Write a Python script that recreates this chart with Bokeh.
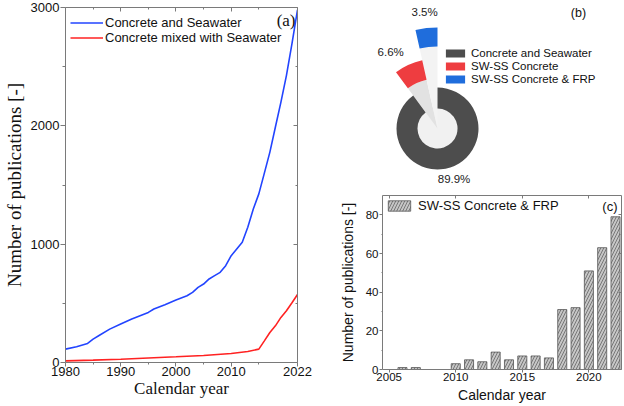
import numpy as np
from bokeh.plotting import figure
from bokeh.layouts import row, column
from bokeh.models import FixedTicker, LinearAxis, Range1d, Label, ColumnDataSource
from bokeh.core.properties import value
from bokeh.embed import file_html
from bokeh.resources import INLINE

# ---------------- data ----------------
# (a) cumulative publications
years_cs = [1980, 1982, 1984, 1985, 1986, 1988, 1990, 1992, 1995, 1996, 1998, 2000, 2002, 2003,
            2004, 2005, 2006, 2007, 2008, 2009, 2010, 2011, 2012, 2013, 2014, 2015, 2016, 2017,
            2018, 2019, 2020, 2021, 2022]
pubs_cs = [113, 133, 161, 198, 226, 282, 325, 367, 423, 452, 488, 528, 564, 593,
           635, 663, 706, 734, 762, 818, 903, 960, 1016, 1143, 1298, 1425, 1600, 1778,
           1990, 2201, 2427, 2695, 2980]
years_mix = [1980, 1985, 1990, 1995, 2000, 2005, 2010, 2013, 2015, 2016, 2017, 2018, 2019,
             2020, 2021, 2022]
pubs_mix = [14, 20, 28, 38, 48, 59, 76, 93, 113, 183, 254, 310, 381, 437, 505, 575]
series_a = ["Concrete and Seawater", "Concrete mixed with Seawater"]
ticks_a_x = [1980, 1990, 2000, 2010, 2022]
ticks_a_y = [0, 1000, 2000, 3000]

# (b) shares
share_labels = ["Concrete and Seawater", "SW-SS Concrete", "SW-SS Concrete & FRP"]
share_pct = [89.9, 6.6, 3.5]

# (c) yearly publications, SW-SS Concrete & FRP
years_frp = [2006, 2007, 2008, 2009, 2010, 2011, 2012, 2013, 2014, 2015, 2016, 2017, 2018,
             2019, 2020, 2021, 2022]
pubs_frp = [1, 1, 0, 0, 3, 5, 4, 9, 5, 7, 7, 6, 31, 32, 51, 63, 79]
ticks_c_x = [2005, 2010, 2015, 2020]
ticks_c_y = [0, 20, 40, 60, 80]

# ---------------- style ----------------
SANS = "Liberation Sans"
SERIF = "Liberation Serif"
AX = "#7a7a7a"


def style_axis(ax, font, size, tick_out, standoff):
    ax.axis_line_color = AX
    ax.major_tick_line_color = AX
    ax.minor_tick_line_color = AX
    ax.major_tick_out = tick_out
    ax.major_tick_in = 0
    ax.minor_tick_out = max(tick_out - 2, 1)
    ax.minor_tick_in = 0
    ax.major_label_text_font = font
    ax.major_label_text_font_size = size
    ax.major_label_text_color = "#111111"
    ax.major_label_standoff = standoff


def mirror(p, side, ticker, tin):
    ax = LinearAxis(ticker=ticker)
    ax.axis_line_color = AX
    ax.major_tick_line_color = AX
    ax.minor_tick_line_color = AX
    ax.major_tick_in = tin
    ax.major_tick_out = 0
    ax.minor_tick_in = max(tin - 2, 1)
    ax.minor_tick_out = 0
    ax.major_label_text_font_size = "0px"
    ax.major_label_text_color = None
    ax.major_label_standoff = 0
    p.add_layout(ax, side)


# ---------------- (a) ----------------
pa = figure(width=326, height=406, x_range=Range1d(1980, 2022), y_range=Range1d(0, 3000),
            output_backend="svg", toolbar_location=None, frame_align=False,
            min_border_left=60, min_border_right=29, min_border_top=7, min_border_bottom=44)
pa.grid.visible = False
pa.outline_line_color = None
tx_a = FixedTicker(ticks=ticks_a_x, minor_ticks=[1985, 1995, 2005, 2015])
ty_a = FixedTicker(ticks=ticks_a_y, minor_ticks=[500, 1500, 2500])
pa.xaxis[0].ticker = tx_a
pa.yaxis[0].ticker = ty_a
style_axis(pa.xaxis[0], SANS, "13px", 4, 0)
style_axis(pa.yaxis[0], SANS, "13px", 5, 1)
pa.xaxis[0].axis_label = "Calendar year"
pa.yaxis[0].axis_label = "Number of publications [-]"
for ax, st, fs in ((pa.xaxis[0], 0, "17px"), (pa.yaxis[0], 3, "19px")):
    ax.axis_label_text_font = SERIF
    ax.axis_label_text_font_style = "normal"
    ax.axis_label_text_font_size = fs
    ax.axis_label_text_color = "#111111"
    ax.axis_label_standoff = st
mirror(pa, "above", tx_a, 4)
mirror(pa, "right", ty_a, 4)

pa.line(years_cs, pubs_cs, line_color="#2244ff", line_width=1.6, legend_label=series_a[0])
pa.line(years_mix, pubs_mix, line_color="#ff2222", line_width=1.6, legend_label=series_a[1])
lg = pa.legend[0]
lg.location = (5, 317)
lg.glyph_width = 33
lg.glyph_height = 15
lg.label_height = 15
lg.spacing = 0
lg.padding = 0
lg.margin = 0
lg.label_standoff = 2
lg.border_line_alpha = 0
lg.background_fill_alpha = 0
lg.label_text_font = SANS
lg.label_text_font_size = "13px"
lg.label_text_color = "#111111"

pa.add_layout(Label(x=230, y=342, x_units="screen", y_units="screen", text="(a)",
                    text_font=SERIF, text_font_size="17px", text_align="right",
                    text_baseline="middle", text_color="#111111"))

# ---------------- (b) ----------------
WB, HB = 298, 186
pb = figure(width=WB, height=HB, x_range=Range1d(0, WB), y_range=Range1d(0, HB),
            output_backend="svg", toolbar_location=None, min_border=0, frame_align=False,
            x_axis_location=None, y_axis_location=None)
pb.grid.visible = False
pb.outline_line_color = None

CX, CY = 111.0, 58.0
pct = np.array(share_pct)
deg = pct / pct.sum() * 360.0
ends_rev = 90.0 + np.cumsum(deg[::-1])
starts_rev = ends_rev - deg[::-1]
starts = np.radians(starts_rev[::-1])
ends = np.radians(ends_rev[::-1])
mids = (starts + ends) / 2

r_in = [20.0, 50.0, 82.0]
r_out = [41.0, 70.0, 101.0]
colors_b = ["#4d4d4d", "#ee3d40", "#1f6ddc"]
src_b = ColumnDataSource(dict(x=[CX] * 3, y=[CY] * 3, s=starts, e=ends, ri=r_in, ro=r_out,
                              c=colors_b, label=share_labels))

pb.circle(x=[CX], y=[CY], radius=r_in[0], fill_color="#f1f1f1", line_color=None)
conn_colors = ["#e2e2e2", "#f3f3f3"]
pb.wedge(x=[CX, CX], y=[CY, CY], radius=[r_in[1], r_in[2]],
         start_angle=list(starts[1:]), end_angle=list(ends[1:]),
         fill_color=conn_colors, line_color=None)
pb.annular_wedge(x="x", y="y", inner_radius="ri", outer_radius="ro", start_angle="s",
                 end_angle="e", fill_color="c", line_color=None, source=src_b,
                 legend_field="label")

label_r = np.array([53.0, 84.0, 117.5])
label_dx = np.array([0.0, -12.0, 0.0])
pb.text(x=CX + label_r * np.cos(mids) + label_dx, y=CY + label_r * np.sin(mids),
        text=[f"{v}%" for v in share_pct], text_font=value(SANS), text_font_size="11.5px",
        text_align="center", text_baseline="middle", text_color="#222222")
lgb = pb.legend[0]
lgb.location = (117, 101)
lgb.glyph_width = 24
lgb.glyph_height = 10
lgb.label_height = 13
lgb.spacing = 0
lgb.padding = 0
lgb.margin = 0
lgb.label_standoff = 4
lgb.border_line_alpha = 0
lgb.background_fill_alpha = 0
lgb.label_text_font = SANS
lgb.label_text_font_size = "11.5px"
lgb.label_text_color = "#111111"
pb.text(x=[252], y=[174], text=["(b)"], text_font=value(SANS), text_font_size="12.5px",
        text_align="center", text_baseline="middle", text_color="#111111")

# ---------------- (c) ----------------
pc = figure(width=298, height=220, x_range=Range1d(2004.5, 2022.45), y_range=Range1d(0, 90),
            output_backend="svg", toolbar_location=None, frame_align=False,
            min_border_left=56, min_border_right=3, min_border_top=9, min_border_bottom=37)
pc.grid.visible = False
pc.outline_line_color = None
tx_c = FixedTicker(ticks=ticks_c_x, minor_ticks=[])
ty_c = FixedTicker(ticks=ticks_c_y, minor_ticks=[10, 30, 50, 70])
pc.xaxis[0].ticker = tx_c
pc.yaxis[0].ticker = ty_c
style_axis(pc.xaxis[0], SANS, "11.5px", 3, 0)
style_axis(pc.yaxis[0], SANS, "11.5px", 3, 1)
pc.xaxis[0].axis_label = "Calendar year"
pc.yaxis[0].axis_label = "Number of publications [-]"
for ax, st in ((pc.xaxis[0], 3), (pc.yaxis[0], 7)):
    ax.axis_label_text_font = SANS
    ax.axis_label_text_font_style = "normal"
    ax.axis_label_text_font_size = "14px"
    ax.axis_label_text_color = "#111111"
    ax.axis_label_standoff = st
mirror(pc, "above", tx_c, 3)
mirror(pc, "right", ty_c, 3)

pc.vbar(x=years_frp, top=pubs_frp, width=0.68, fill_color="#c6c6c6", line_color="#555555",
        line_width=0.8, hatch_pattern="/", hatch_color="#555555", hatch_scale=6,
        hatch_weight=0.7, legend_label="SW-SS Concrete & FRP")
lgc = pc.legend[0]
lgc.location = (3, 156)
lgc.glyph_width = 28
lgc.glyph_height = 13
lgc.label_height = 13
lgc.padding = 0
lgc.margin = 0
lgc.label_standoff = 5
lgc.border_line_alpha = 0
lgc.background_fill_alpha = 0
lgc.label_text_font = SANS
lgc.label_text_font_size = "13px"
lgc.label_text_color = "#111111"
pc.add_layout(Label(x=235, y=163, x_units="screen", y_units="screen", text="(c)",
                    text_font=SANS, text_font_size="13px", text_align="right",
                    text_baseline="middle", text_color="#111111"))

layout = row(pa, column(pb, pc))
open("out.html", "w").write(file_html(layout, INLINE))
